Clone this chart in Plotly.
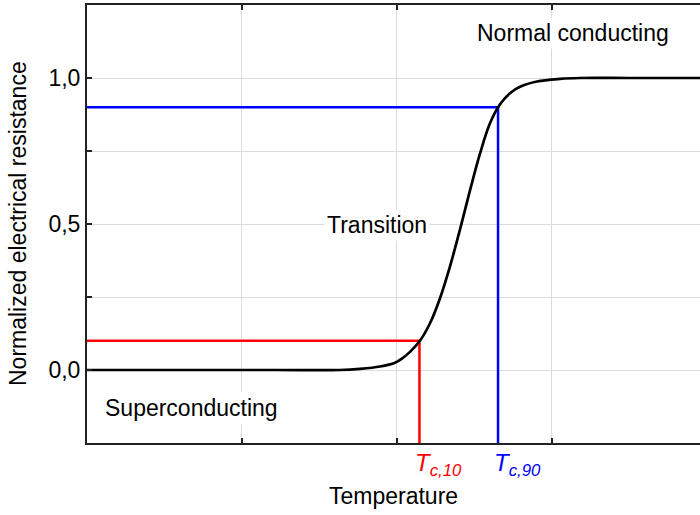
import plotly.graph_objects as go

# Data
temperature = [0.0, 1.2, 1.632, 1.761, 1.890, 1.987, 2.039, 2.084, 2.148, 2.213, 2.277,
               2.342, 2.406, 2.471, 2.535, 2.600, 2.665, 2.729, 2.794, 2.903, 3.052,
               3.181, 3.5, 3.955]
resistance = [0.0, 0.0, 0.0, 0.004, 0.012, 0.025, 0.042, 0.062, 0.10, 0.16, 0.245,
              0.355, 0.48, 0.615, 0.74, 0.845, 0.91, 0.948, 0.970, 0.988, 0.997,
              1.0, 1.0, 1.0]

tc10_x, tc10_y = 2.145, 0.1
tc90_x, tc90_y = 2.652, 0.9
y_min, y_max = -0.25, 1.25
x_min, x_max = 0.0, 3.955

y_tickvals = [0.0, 0.25, 0.5, 0.75, 1.0]
y_ticktext = ["0,0", "", "0,5", "", "1,0"]
x_tickvals = [1, 2, 3]

region_labels = ["Normal conducting", "Transition", "Superconducting"]
region_x = [3.135, 1.871, 0.677]
region_y = [1.154, 0.497, -0.130]

FONT = "Liberation Sans, Arial, sans-serif"
FS = 23

fig = go.Figure()

fig.add_trace(go.Scatter(x=[x_min, tc10_x, tc10_x], y=[tc10_y, tc10_y, y_min],
                         mode="lines", line=dict(color="#ff0000", width=2.5),
                         showlegend=False, hoverinfo="skip", cliponaxis=False))
fig.add_trace(go.Scatter(x=[x_min, tc90_x, tc90_x], y=[tc90_y, tc90_y, y_min],
                         mode="lines", line=dict(color="#0000ff", width=2.5),
                         showlegend=False, hoverinfo="skip", cliponaxis=False))
fig.add_trace(go.Scatter(x=temperature, y=resistance, mode="lines",
                         line=dict(color="black", width=2.7, shape="spline", smoothing=1.0),
                         showlegend=False))

annotations = []
for t, xx, yy in zip(region_labels, region_x, region_y):
    annotations.append(dict(x=xx, y=yy, xref="x", yref="y", text=t, showarrow=False,
                            font=dict(family=FONT, size=FS, color="black"),
                            bgcolor="white", borderpad=2))

for tx, col, lab in [(tc10_x, "#ff0000", "c,10"), (tc90_x, "#0000ff", "c,90")]:
    annotations.append(dict(x=tx, y=0, xref="x", yref="paper",
                            text="<i>T<sub>" + lab + "</sub></i>", showarrow=False,
                            xanchor="left", yanchor="top", xshift=-6, yshift=-4,
                            font=dict(family=FONT, size=24, color=col)))

# Axis titles
annotations.append(dict(x=0.5, y=(443 - 496) / 438, xref="paper", yref="paper",
                        text="Temperature", xanchor="center", yanchor="middle",
                        showarrow=False, font=dict(family=FONT, size=FS, color="black")))
annotations.append(dict(x=(18 - 87) / 613, y=0.5, xref="paper", yref="paper",
                        text="Normalized electrical resistance", textangle=-90,
                        xanchor="center", yanchor="middle", showarrow=False,
                        font=dict(family=FONT, size=FS, color="black")))

fig.update_layout(
    width=700, height=515,
    margin=dict(l=87, r=0, t=5, b=72),
    plot_bgcolor="white", paper_bgcolor="white",
    font=dict(family=FONT, size=FS, color="black"),
    annotations=annotations,
    xaxis=dict(range=[x_min, x_max], tickvals=x_tickvals, showticklabels=False,
               ticks="inside", ticklen=5, tickcolor="#222", tickwidth=1.5,
               showgrid=True, gridcolor="#dcdcdc", gridwidth=1,
               showline=True, linecolor="#222", linewidth=2, mirror="ticks",
               zeroline=False),
    yaxis=dict(range=[y_min, y_max], tickvals=y_tickvals, ticktext=y_ticktext,
               ticks="inside", ticklen=5, tickcolor="#222", tickwidth=1.5,
               showgrid=True, gridcolor="#dcdcdc", gridwidth=1,
               showline=True, linecolor="#222", linewidth=2,
               zeroline=False, tickfont=dict(family=FONT, size=FS)),
)

fig.write_html("out.html")
